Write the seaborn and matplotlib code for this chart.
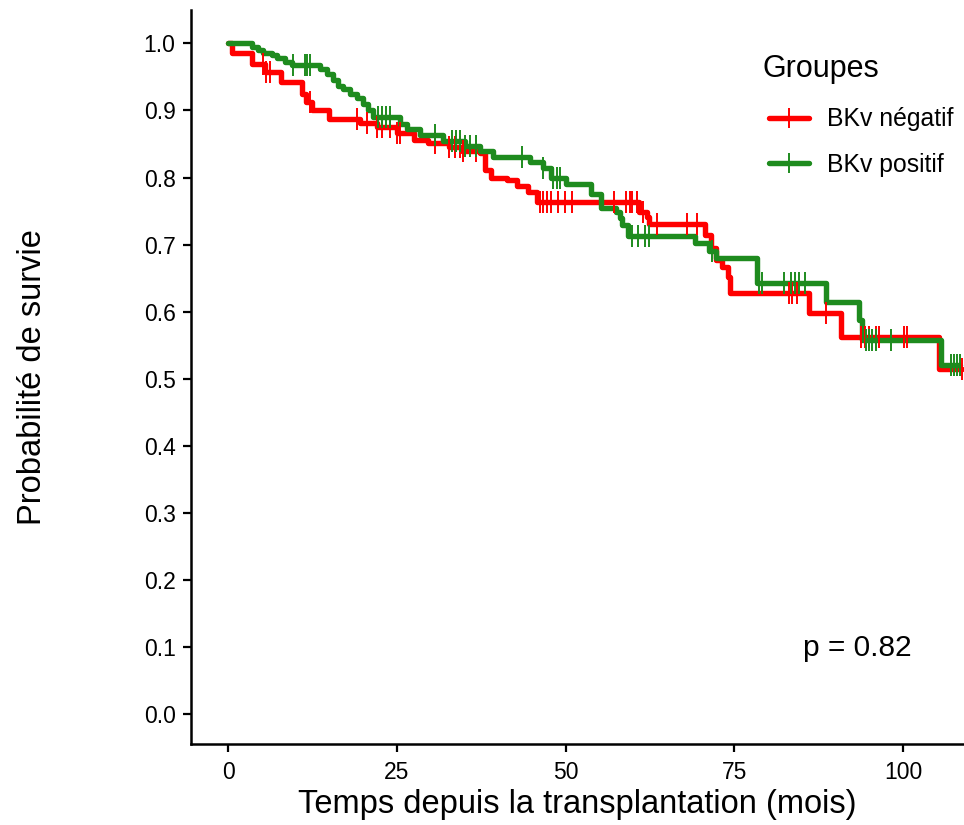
import numpy as np
import pandas as pd
import matplotlib
matplotlib.use("Agg")
import matplotlib.pyplot as plt
from matplotlib.lines import Line2D
import seaborn as sns

# ---- data ----
groups = ["BKv négatif", "BKv positif"]
colors = {"BKv négatif": "#FF0000", "BKv positif": "#1E8B1E"}

neg_times = [0, 0.6, 3.5, 5.5, 7.8, 11.0, 11.5, 12.5, 15.0, 19.5, 22.0, 25.0, 27.6, 29.6,
             32.8, 34.6, 37.3, 38.0, 39.0, 41.3, 42.8, 44.4, 45.7, 60.9, 62.0, 62.4, 70.6,
             71.6, 72.2, 73.2, 74.0, 74.3, 86.1, 90.8, 105.3]
neg_surv = [1.0, 0.985, 0.97, 0.957, 0.942, 0.925, 0.912, 0.90, 0.888, 0.882, 0.875, 0.867,
            0.856, 0.851, 0.845, 0.84, 0.836, 0.811, 0.80, 0.796, 0.788, 0.778, 0.764, 0.748,
            0.741, 0.731, 0.714, 0.695, 0.677, 0.666, 0.651, 0.628, 0.598, 0.562, 0.514]
neg_censor = [5.2, 5.6, 6.2, 12.1, 19.1, 20.6, 22.0, 22.8, 24.0, 25.0, 25.4, 30.6, 32.8, 33.6,
              34.3, 34.8, 36.8, 46.2, 46.6, 47.3, 47.9, 48.8, 49.9, 51.0, 57.2, 59.0, 59.5,
              59.9, 60.5, 61.4, 63.5, 68.0, 69.4, 83.1, 83.6, 84.2, 88.5, 93.8, 94.4, 95.0,
              95.9, 96.4, 100.1, 100.6, 108.7]

pos_times = [0, 3.5, 4.4, 5.2, 6.5, 7.2, 8.4, 9.5, 13.6, 14.6, 15.5, 16.3, 17.0, 18.0, 19.1,
             20.0, 20.7, 21.4, 25.4, 26.5, 28.4, 31.8, 35.1, 37.3, 39.2, 44.7, 46.6, 47.9,
             50.1, 53.8, 55.3, 57.5, 58.0, 58.4, 59.2, 69.1, 71.3, 72.3, 78.3, 88.6, 93.5,
             93.9, 105.6]
pos_surv = [1.0, 0.994, 0.99, 0.985, 0.982, 0.978, 0.972, 0.968, 0.962, 0.955, 0.945, 0.937,
            0.932, 0.925, 0.918, 0.91, 0.90, 0.89, 0.88, 0.873, 0.863, 0.855, 0.847, 0.84,
            0.83, 0.823, 0.814, 0.80, 0.79, 0.776, 0.754, 0.748, 0.739, 0.729, 0.713, 0.702,
            0.69, 0.68, 0.642, 0.614, 0.587, 0.557, 0.52]
pos_censor = [9.6, 11.4, 11.7, 12.1, 22.2, 22.8, 23.4, 24.0, 30.6, 33.1, 33.7, 34.3, 35.1,
              35.8, 36.7, 43.5, 46.6, 48.1, 48.7, 49.1, 59.8, 60.7, 61.7, 62.4, 71.7, 78.7,
              79.1, 82.4, 83.4, 83.9, 84.6, 85.4, 94.5, 95.0, 95.4, 96.0, 98.2, 107.1, 107.5,
              108.0, 108.4]

x_ticks = [0, 25, 50, 75, 100]
y_ticks = [0.0, 0.1, 0.2, 0.3, 0.4, 0.5, 0.6, 0.7, 0.8, 0.9, 1.0]
p_text = "p = 0.82"
legend_title = "Groupes"

# ---- build tables ----
curve_rows, cens_rows = [], []
for g, t, s, c in [(groups[0], neg_times, neg_surv, neg_censor),
                   (groups[1], pos_times, pos_surv, pos_censor)]:
    t = list(t); s = list(s)
    end = max(c)
    if end > t[-1]:
        t.append(end); s.append(s[-1])
    for ti, si in zip(t, s):
        curve_rows.append((g, ti, si))
    tt = np.array(t); ss = np.array(s)
    for ci in c:
        idx = np.searchsorted(tt, ci, side="right") - 1
        cens_rows.append((g, ci, ss[idx]))
curves = pd.DataFrame(curve_rows, columns=["Groupes", "time", "surv"])
cens = pd.DataFrame(cens_rows, columns=["Groupes", "time", "surv"])

# ---- plot ----
sns.set_theme(style="ticks")
plt.rcParams["font.family"] = ["Liberation Sans", "DejaVu Sans"]
plt.rcParams["text.color"] = "black"
plt.rcParams["axes.labelcolor"] = "black"

fig = plt.figure(figsize=(9.64, 8.25), dpi=100)
ax = fig.add_axes([0.198, 0.098, 0.802, 0.89])

LW = 3.9
for g in groups:
    d = curves[curves["Groupes"] == g]
    sns.lineplot(data=d, x="time", y="surv", ax=ax, color=colors[g], lw=LW,
                 drawstyle="steps-post", estimator=None, sort=False, legend=False)
for g in groups:
    d = cens[cens["Groupes"] == g]
    sns.scatterplot(data=d, x="time", y="surv", ax=ax, color=colors[g], marker="|",
                    s=230, linewidth=1.4, legend=False, zorder=3)

ax.set_xlim(-5.5, 109)
ax.set_ylim(-0.045, 1.05)
ax.set_xticks(x_ticks)
ax.set_xticklabels([str(v) for v in x_ticks])
ax.set_yticks(y_ticks)
ax.set_yticklabels([f"{v:.1f}" for v in y_ticks])
ax.tick_params(axis="both", labelsize=16.5, length=6, width=1.6, color="black",
               labelcolor="black", direction="out")
ax.tick_params(axis="y", pad=5)
ax.tick_params(axis="x", pad=6)
for sp in ["top", "right"]:
    ax.spines[sp].set_visible(False)
for sp in ["left", "bottom"]:
    ax.spines[sp].set_color("black")
    ax.spines[sp].set_linewidth(1.8)

ax.set_xlabel("Temps depuis la transplantation (mois)", fontsize=23.5, color="black")
ax.set_ylabel("Probabilité de survie", fontsize=23.5, color="black")
ax.xaxis.set_label_coords(0.5, -0.061)
ax.yaxis.set_label_coords(-0.185, 0.5)

ax.text(85.1, 0.098, p_text, fontsize=21.5, ha="left", va="center", color="black")

# legend title drawn as text, entries as a legend
ax.text(0.740, 0.920, legend_title, transform=ax.transAxes, fontsize=22,
        ha="left", va="center", color="black")
handles = [Line2D([0], [0], color=colors[g], lw=LW, marker="|", markersize=15,
                  markeredgewidth=1.4) for g in groups]
leg = ax.legend(handles, groups, loc="upper left",
                bbox_to_anchor=(0.735, 0.881), frameon=False, fontsize=17.8,
                labelspacing=0.87, handlelength=1.6, handletextpad=0.73,
                borderaxespad=0)
for txt in leg.get_texts():
    txt.set_color("black")

fig.savefig("out.png", dpi=100)
